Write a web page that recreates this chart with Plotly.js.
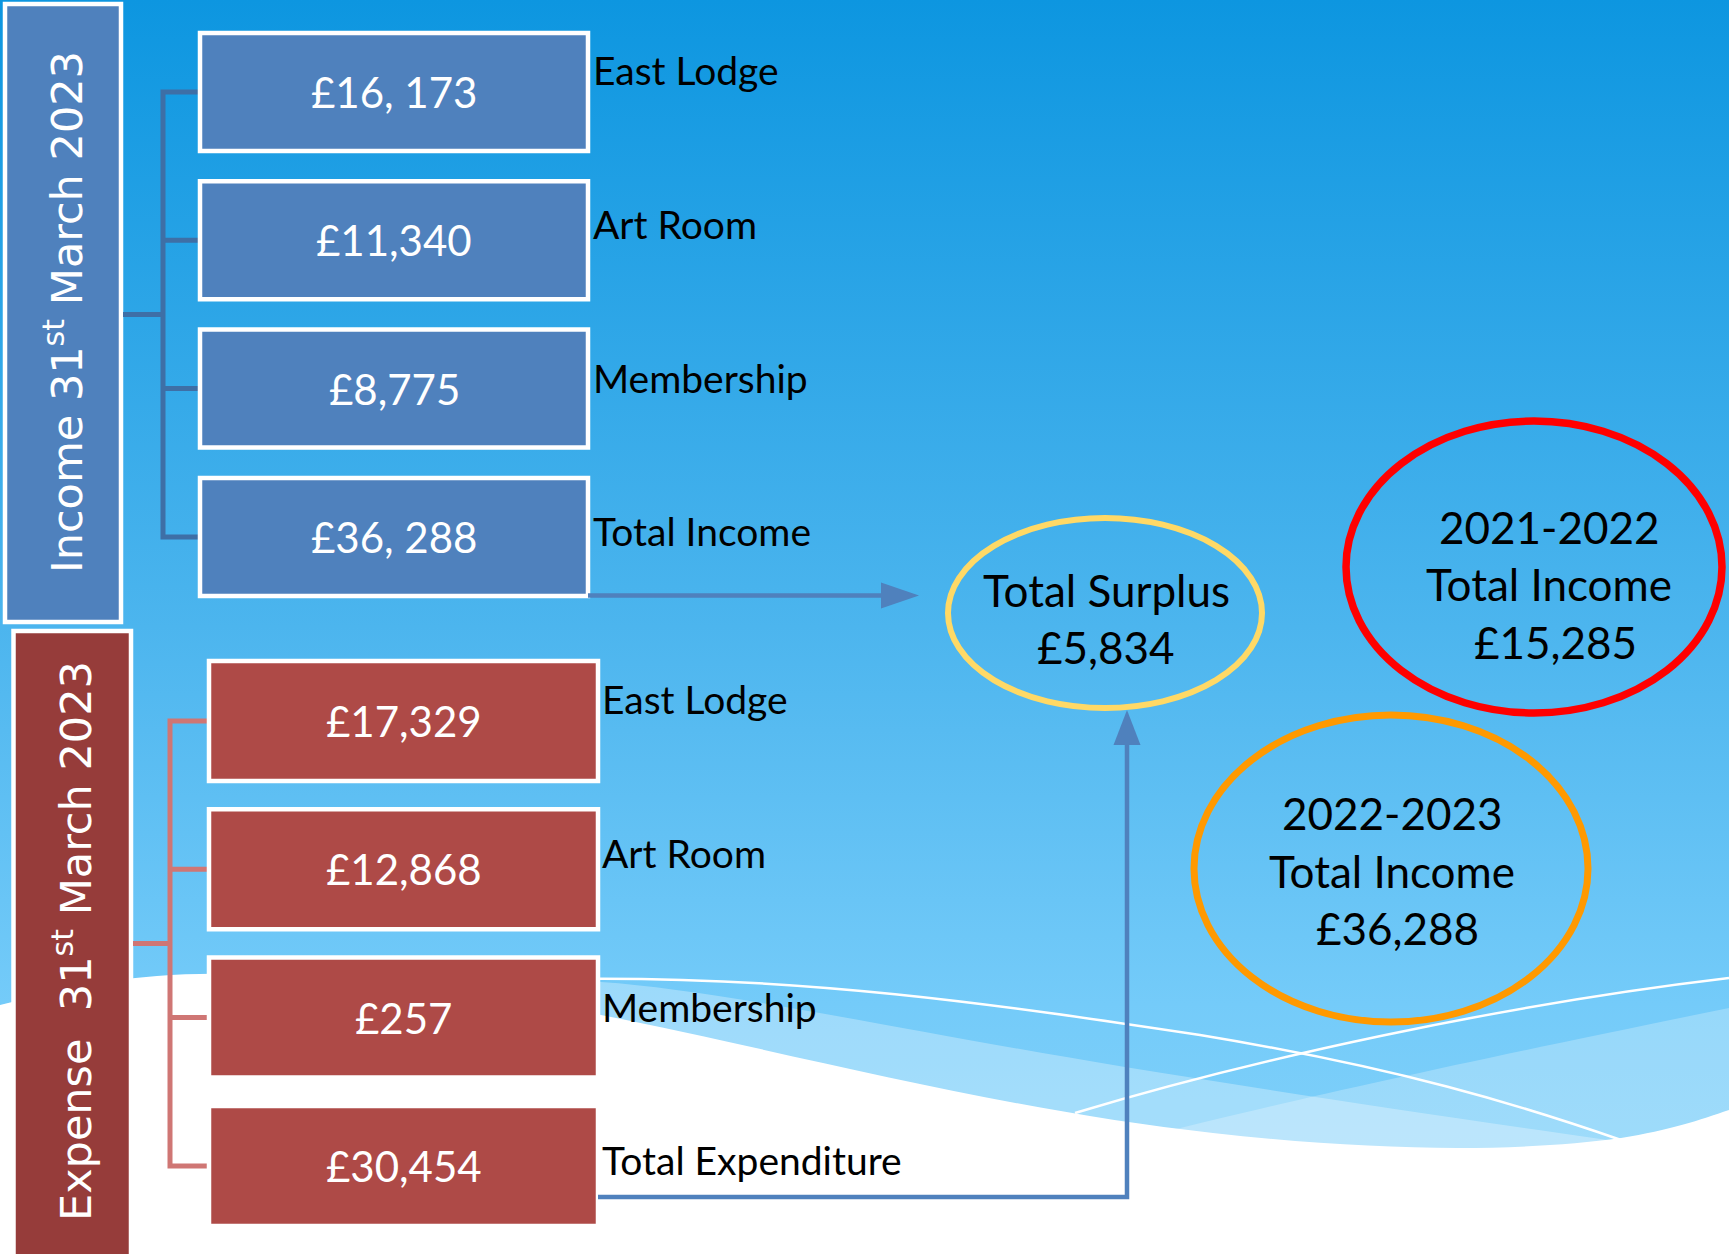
<!DOCTYPE html>
<html>
<head>
<meta charset="utf-8">
<script src="https://cdn.plot.ly/plotly-3.0.1.min.js"></script>
<style>html,body{margin:0;padding:0;background:#fff;}#chart{width:1729px;height:1254px;}</style>
</head>
<body>
<div id="chart"></div>
<script>
// ---------------- data ----------------
const incomeCategories = ['East Lodge', 'Art Room', 'Membership', 'Total Income'];
const incomeValues = [16173, 11340, 8775, 36288];
const incomeLabels = ['£16, 173', '£11,340', '£8,775', '£36, 288'];
const incomeTitle = 'Income 31<sup>st</sup> March 2023';

const expenseCategories = ['East Lodge', 'Art Room', 'Membership', 'Total Expenditure'];
const expenseValues = [17329, 12868, 257, 30454];
const expenseLabels = ['£17,329', '£12,868', '£257', '£30,454'];
const expenseTitle = 'Expense  31<sup>st</sup> March 2023';

const surplusTitle = 'Total Surplus';
const surplusValue = 5834;

const comparisonYears = ['2021-2022', '2022-2023'];
const comparisonTitle = 'Total Income';
const comparisonValues = [15285, 36288];

const slideTitle = 'EST Accounts';

// ---------------- helpers ----------------
const W = 1729, H = 1254;
const fmt = v => '£' + v.toLocaleString('en-GB');
const FONT = 'Lato, "Open Sans", sans-serif';
const SIDEFONT = '"DejaVu Sans", Verdana, sans-serif';

// background (gradient + waves) as an svg image
const bgSvg = `<svg xmlns="http://www.w3.org/2000/svg" width="${W}" height="${H}" viewBox="0 0 ${W} ${H}">
<defs><linearGradient id="g" x1="0" y1="0" x2="0" y2="1">
<stop offset="0" stop-color="#0D96E0"/><stop offset="0.5" stop-color="#4CB5EE"/>
<stop offset="0.8" stop-color="#74CBF9"/><stop offset="1" stop-color="#86D3FA"/></linearGradient></defs>
<rect width="${W}" height="${H}" fill="url(#g)"/>
<path d="M 300,990 C 420,975 500,978 601,982 C 720,990 900,1030 1125,1067 C 1300,1095 1450,1118 1680,1150 L 1680,1254 L 300,1254 Z" fill="#ffffff" fill-opacity="0.3"/>
<path d="M 1040,1165 C 1200,1120 1400,1075 1729,1008 L 1729,1254 L 1040,1254 Z" fill="#ffffff" fill-opacity="0.25"/>
<path d="M 0,1005 C 60,990 120,975 200,974 C 350,972 480,990 601,1015 C 780,1050 1000,1110 1213,1133 C 1380,1152 1520,1152 1621,1138 C 1670,1130 1700,1120 1729,1110 L 1729,1254 L 0,1254 Z" fill="#ffffff"/>
<path d="M 560,979 C 800,975 1000,1005 1200,1035 C 1400,1068 1520,1105 1621,1140" stroke="#ffffff" stroke-width="2.5" fill="none"/>
<path d="M 1075,1113 C 1250,1060 1500,1005 1729,978" stroke="#ffffff" stroke-width="2.5" fill="none"/>
</svg>`;
const bgSrc = 'data:image/svg+xml;base64,' + btoa(bgSvg);

const shapes = [];
const annotations = [];

// geometry
const inc = {x0: 200, x1: 588, top: 33, h: 118, step: 148.3, fill: '#4F81BD', brX: 163, brColor: '#3E6FA6', sideX0: 5, sideX1: 121, sideY0: 4, sideY1: 622, sideFill: '#4F81BD', textX: 64, textY: 312, labelX: 591};
const exp = {x0: 209, x1: 598, top: 661, h: 120, step: 148.3, fill: '#AE4A47', brX: 170, brColor: '#CF7674', sideX0: 13.5, sideX1: 131, sideY0: 631, sideY1: 1262, sideFill: '#963C3A', textX: 73, textY: 941, labelX: 600};

function group(g, cats, labels, title) {
  shapes.push({type: 'rect', xref: 'x', yref: 'y', x0: g.sideX0, x1: g.sideX1, y0: g.sideY0, y1: g.sideY1,
    fillcolor: g.sideFill, line: {color: '#ffffff', width: 4.5}, layer: 'above'});
  annotations.push({xref: 'x', yref: 'y', x: g.textX, y: g.textY, text: title, textangle: -90, showarrow: false,
    xanchor: 'center', yanchor: 'middle', font: {family: SIDEFONT, size: 43, color: '#ffffff'}});
  const centers = cats.map((c, i) => g.top + i * g.step + g.h / 2);
  const mid = (centers[0] + centers[centers.length - 1]) / 2;
  let p = `M ${g.sideX1 + 2},${mid} L ${g.brX},${mid}`;
  p += ` M ${g.brX},${centers[0]} L ${g.brX},${centers[centers.length - 1]}`;
  centers.forEach(c => { p += ` M ${g.brX - 2.5},${c} L ${g.x0},${c}`; });
  shapes.push({type: 'path', xref: 'x', yref: 'y', path: p, line: {color: g.brColor, width: 5}, layer: 'above'});
  cats.forEach((c, i) => {
    const y0 = g.top + i * g.step;
    shapes.push({type: 'rect', xref: 'x', yref: 'y', x0: g.x0, x1: g.x1, y0: y0, y1: y0 + g.h,
      fillcolor: g.fill, line: {color: '#ffffff', width: 4.5}, layer: 'above'});
    annotations.push({xref: 'x', yref: 'y', x: (g.x0 + g.x1) / 2, y: centers[i], text: labels[i], showarrow: false,
      xanchor: 'center', yanchor: 'middle', font: {family: FONT, size: 42, color: '#ffffff'}});
    annotations.push({xref: 'x', yref: 'y', x: g.labelX, y: centers[i] - 22 + 5.5 * i, text: c, showarrow: false,
      xanchor: 'left', yanchor: 'middle', font: {family: FONT, size: 39, color: '#000000'}});
  });
  return centers;
}
group(inc, incomeCategories, incomeLabels, incomeTitle);
group(exp, expenseCategories, expenseLabels, expenseTitle);

// ellipses
const ellipses = [
  {x0: 948, x1: 1262, y0: 518, y1: 708, color: '#FFD966', width: 6,
   lines: [[surplusTitle, 1106, 590], [fmt(surplusValue), 1106, 647]]},
  {x0: 1346, x1: 1722, y0: 421, y1: 713, color: '#FF0000', width: 7.5,
   lines: [[comparisonYears[0], 1549, 527], [comparisonTitle, 1549, 584], [fmt(comparisonValues[0]), 1555, 642]]},
  {x0: 1194, x1: 1588, y0: 715, y1: 1022, color: '#FF9900', width: 7,
   lines: [[comparisonYears[1], 1392, 813], [comparisonTitle, 1392, 871], [fmt(comparisonValues[1]), 1397, 928]]}
];
ellipses.forEach(e => {
  shapes.push({type: 'circle', xref: 'x', yref: 'y', x0: e.x0, x1: e.x1, y0: e.y0, y1: e.y1,
    line: {color: e.color, width: e.width}, fillcolor: 'rgba(0,0,0,0)', layer: 'above'});
  e.lines.forEach(l => annotations.push({xref: 'x', yref: 'y', x: l[1], y: l[2], text: l[0], showarrow: false,
    xanchor: 'center', yanchor: 'middle', font: {family: FONT, size: 44, color: '#000000'}}));
});

// arrows
const arrowColor = '#4F81BD';
const incBottom = inc.top + 3 * inc.step + inc.h;
shapes.push({type: 'path', xref: 'x', yref: 'y', path: `M ${inc.x1},${incBottom - 0.5} L 884,${incBottom - 0.5}`,
  line: {color: arrowColor, width: 4.5}, layer: 'above'});
shapes.push({type: 'path', xref: 'x', yref: 'y', path: `M 881,${incBottom - 13.5} L 919,${incBottom - 0.5} L 881,${incBottom + 12.5} Z`,
  fillcolor: arrowColor, line: {color: arrowColor, width: 0}, layer: 'above'});
shapes.push({type: 'path', xref: 'x', yref: 'y', path: `M ${exp.x1},1197 L 1127,1197 L 1127,742`,
  line: {color: arrowColor, width: 4.5}, layer: 'above'});
shapes.push({type: 'path', xref: 'x', yref: 'y', path: `M 1113.5,745 L 1127,710 L 1140.5,745 Z`,
  fillcolor: arrowColor, line: {color: arrowColor, width: 0}, layer: 'above'});

// slide title, clipped at the top edge as in the original
annotations.push({xref: 'x', yref: 'y', x: 872, y: 18, text: slideTitle, showarrow: false, xanchor: 'center', yanchor: 'bottom',
  font: {family: SIDEFONT, size: 73, color: '#ffffff'}});

const layout = {
  width: W, height: H, margin: {l: 0, r: 0, t: 0, b: 0, pad: 0},
  paper_bgcolor: '#ffffff', plot_bgcolor: 'rgba(0,0,0,0)', showlegend: false,
  xaxis: {range: [0, W], visible: false, fixedrange: true},
  yaxis: {range: [H, 0], visible: false, fixedrange: true},
  images: [{source: bgSrc, xref: 'paper', yref: 'paper', x: 0, y: 1, sizex: 1, sizey: 1,
    xanchor: 'left', yanchor: 'top', sizing: 'stretch', layer: 'below'}],
  shapes: shapes, annotations: annotations
};
const data = [{type: 'scatter', x: [], y: [], mode: 'markers', hoverinfo: 'skip', showlegend: false}];
Plotly.newPlot('chart', data, layout, {displayModeBar: false, staticPlot: true});
</script>
</body>
</html>
